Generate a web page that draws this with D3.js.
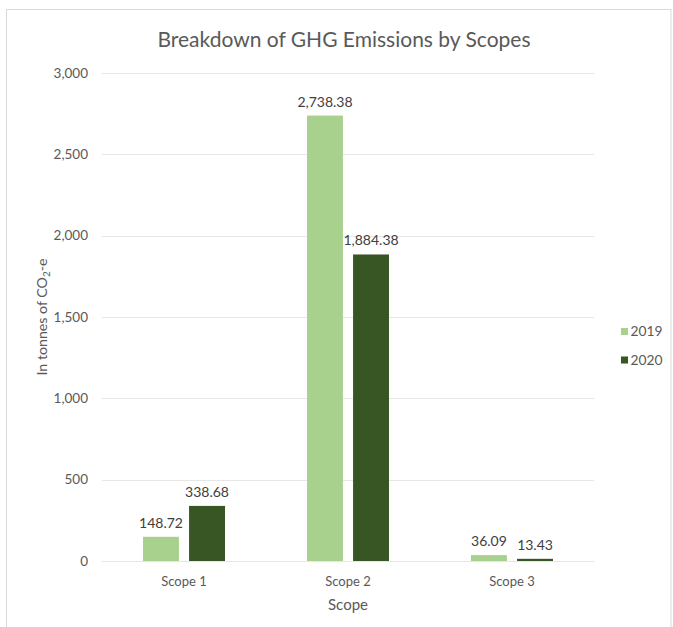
<!DOCTYPE html>
<html>
<head>
<meta charset="utf-8">
<script src="https://cdn.jsdelivr.net/npm/d3@7"></script>
<style>
  html, body { margin: 0; padding: 0; background: #fff; }
  svg { display: block; }
  text { font-family: Lato, "Open Sans", sans-serif; }
</style>
</head>
<body>
<svg id="chart" width="673" height="627"></svg>
<script>
const categories = ["Scope 1", "Scope 2", "Scope 3"];
const seriesNames = ["2019", "2020"];
const values2019 = [148.72, 2738.38, 36.09];
const values2020 = [338.68, 1884.38, 13.43];
const yTicks = [0, 500, 1000, 1500, 2000, 2500, 3000];
const seriesColors = ["#a9d18e", "#375623"];

const seriesValues = [values2019, values2020];
const svg = d3.select("#chart");

// frame
svg.append("rect").attr("x", 6.5).attr("y", 9.5).attr("width", 664.5).attr("height", 640)
  .attr("fill", "#fff").attr("stroke", "#d9d9d9").attr("stroke-width", 1);

const x0 = d3.scaleBand().domain(categories).range([102, 594]).paddingInner(0.5).paddingOuter(0.25);
const x1 = d3.scaleBand().domain(seriesNames).range([0, x0.bandwidth()]).paddingInner(0.22);
const y = d3.scaleLinear().domain([0, 3000]).range([561, 73]);

// gridlines
svg.append("g").selectAll("line").data(yTicks).join("line")
  .attr("x1", 102).attr("x2", 594)
  .attr("y1", d => Math.round(y(d)) + 0.5).attr("y2", d => Math.round(y(d)) + 0.5)
  .attr("stroke", "#e6e6e6").attr("stroke-width", 1);

// y tick labels
const fmt = d3.format(",");
svg.append("g").selectAll("text").data(yTicks).join("text")
  .attr("x", 88).attr("y", d => y(d)).attr("dy", "0.35em")
  .attr("text-anchor", "end").attr("font-size", 13.5).attr("fill", "#595959")
  .text(d => fmt(d));

// bars
const groups = svg.append("g").selectAll("g").data(categories).join("g")
  .attr("transform", c => `translate(${x0(c)},0)`);
const fmt2 = d3.format(",.2f");
groups.each(function(c, ci) {
  const g = d3.select(this);
  seriesNames.forEach((s, si) => {
    const v = seriesValues[si][ci];
    g.append("rect")
      .attr("x", x1(s)).attr("width", x1.bandwidth())
      .attr("y", y(v)).attr("height", y(0) - y(v))
      .attr("fill", seriesColors[si]);
    g.append("text")
      .attr("x", x1(s) + x1.bandwidth() / 2).attr("y", y(v) - 9)
      .attr("text-anchor", "middle").attr("font-size", 14).attr("fill", "#404040")
      .text(fmt2(v));
  });
});

// x labels
svg.append("g").selectAll("text").data(categories).join("text")
  .attr("x", c => x0(c) + x0.bandwidth() / 2).attr("y", 586)
  .attr("text-anchor", "middle").attr("font-size", 13).attr("fill", "#595959")
  .text(c => c);

// axis titles
svg.append("text").attr("x", 348).attr("y", 610).attr("text-anchor", "middle")
  .attr("font-size", 15).attr("fill", "#595959").text("Scope");

const yt = svg.append("text").attr("transform", "translate(47,317) rotate(-90)")
  .attr("text-anchor", "middle").attr("font-size", 14.2).attr("fill", "#595959");
yt.append("tspan").text("In tonnes of CO");
yt.append("tspan").attr("font-size", 10).attr("dy", 3).text("2");
yt.append("tspan").attr("dy", -3).text("-e");

// title
svg.append("text").attr("x", 344).attr("y", 47).attr("text-anchor", "middle")
  .attr("font-size", 21).attr("fill", "#595959").text("Breakdown of GHG Emissions by Scopes");

// legend
const leg = svg.append("g").selectAll("g").data(seriesNames).join("g")
  .attr("transform", (d, i) => `translate(621,${331.5 + i * 28.5})`);
leg.append("rect").attr("x", 0).attr("y", -3.5).attr("width", 7).attr("height", 7)
  .attr("fill", (d, i) => seriesColors[i]);
leg.append("text").attr("x", 9.5).attr("y", 0).attr("dy", "0.35em")
  .attr("font-size", 13.8).attr("fill", "#595959").text(d => d);
</script>
</body>
</html>
